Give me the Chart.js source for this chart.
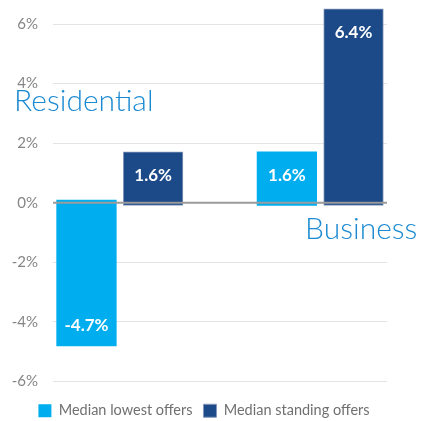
<!DOCTYPE html>
<html>
<head>
<meta charset="utf-8">
<script src="https://cdn.jsdelivr.net/npm/chart.js@4/dist/chart.umd.min.js"></script>
<style>
  html, body { margin: 0; padding: 0; background: #fff; }
  #wrap { width: 423px; height: 421px; }
</style>
</head>
<body>
<div id="wrap"><canvas id="offers"></canvas></div>
<script>
const categories = ['Residential', 'Business'];
const lowestOffers = [-4.7, 1.6];
const standingOffers = [1.6, 6.4];
const seriesNames = ['Median lowest offers', 'Median standing offers'];
const yTicks = [-6, -4, -2, 0, 2, 4, 6];

const colors = {
  light: '#00aeef',
  dark: '#1c4987',
  darkEdge: '#8598bb',
  title: '#1b8ad2',
  tick: '#858585',
  grid: '#e4e4e4',
  zero: '#9b9b9b',
  legend: '#707070',
};
const FONT = 'Lato, "Open Sans", sans-serif';

const toPoints = (vals) => vals.map((v, i) => ({ x: i, y: v }));

// white value labels inside each bar
const barLabels = {
  id: 'barLabels',
  afterDatasetsDraw(chart) {
    const { ctx } = chart;
    ctx.save();
    ctx.fillStyle = '#fff';
    ctx.font = 'bold 17px ' + FONT;
    ctx.textAlign = 'center';
    ctx.textBaseline = 'middle';
    chart.data.datasets.forEach((ds, di) => {
      chart.getDatasetMeta(di).data.forEach((bar, i) => {
        const v = ds.data[i].y;
        const y = v >= 0 ? bar.y + 20 : bar.y - 17;
        ctx.fillText(v.toFixed(1) + '%', bar.x, y);
      });
    });
    ctx.restore();
  }
};

// zero line on top of the bars, category names as big captions
const overlay = {
  id: 'overlay',
  afterDatasetsDraw(chart) {
    const { ctx, chartArea: a, scales: { x, y } } = chart;
    ctx.save();
    const y0 = y.getPixelForValue(0);
    ctx.strokeStyle = colors.zero;
    ctx.lineWidth = 2;
    ctx.beginPath();
    ctx.moveTo(a.left, y0);
    ctx.lineTo(a.right, y0);
    ctx.stroke();

    ctx.fillStyle = colors.title;
    ctx.font = '300 30px ' + FONT;
    ctx.textBaseline = 'alphabetic';
    ctx.textAlign = 'center';
    ctx.fillText(categories[0], x.getPixelForValue(0) - 36, y.getPixelForValue(3.07));
    ctx.fillText(categories[1], x.getPixelForValue(1) + 41, y.getPixelForValue(-1.23));
    ctx.restore();
  }
};

new Chart(document.getElementById('offers'), {
  type: 'bar',
  data: {
    datasets: [
      {
        label: seriesNames[0],
        data: toPoints(lowestOffers),
        backgroundColor: colors.light,
        borderWidth: 0,
      },
      {
        label: seriesNames[1],
        data: toPoints(standingOffers),
        backgroundColor: colors.dark,
        borderColor: colors.darkEdge,
        borderWidth: 1,
        borderSkipped: false,
      }
    ]
  },
  options: {
    responsive: true,
    maintainAspectRatio: false,
    animation: false,
    devicePixelRatio: 1,
    layout: { padding: { top: 22, right: 15, left: 0, bottom: -7 } },
    datasets: {
      bar: {
        categoryPercentage: 0.665,
        barPercentage: 0.8,
        inflateAmount: 3.5,
        clip: false,
      }
    },
    scales: {
      x: {
        type: 'linear',
        offset: false,
        min: -1 / 3,
        max: 4 / 3,
        grid: { display: false },
        border: { display: false },
        ticks: { display: false },
        afterBuildTicks: (s) => { s.ticks = categories.map((_, i) => ({ value: i })); },
        afterFit: (s) => { s.height = 11; },
      },
      y: {
        min: -6,
        max: 6,
        afterBuildTicks: (s) => { s.ticks = yTicks.map(v => ({ value: v })); },
        afterFit: (s) => { s.width = 53; },
        grid: {
          color: (c) => c.tick && c.tick.value === 0 ? 'rgba(0,0,0,0)' : colors.grid,
          drawTicks: false,
        },
        border: { display: false },
        ticks: {
          padding: 15,
          color: colors.tick,
          font: { family: FONT, size: 15 },
          callback: (v) => v + '%',
        },
      },
      // empty spacer on the right so the legend sits a bit right of the plot centre
      spacer: {
        axis: 'y',
        position: 'right',
        grid: { display: false },
        border: { display: false },
        ticks: { display: false },
        afterFit: (s) => { s.width = 21; },
      }
    },
    plugins: {
      legend: {
        position: 'bottom',
        labels: {
          boxWidth: 13,
          boxHeight: 13,
          padding: 11,
          color: colors.legend,
          font: { family: FONT, size: 14.5 },
        }
      },
      tooltip: { enabled: false },
    }
  },
  plugins: [barLabels, overlay]
});
</script>
</body>
</html>
